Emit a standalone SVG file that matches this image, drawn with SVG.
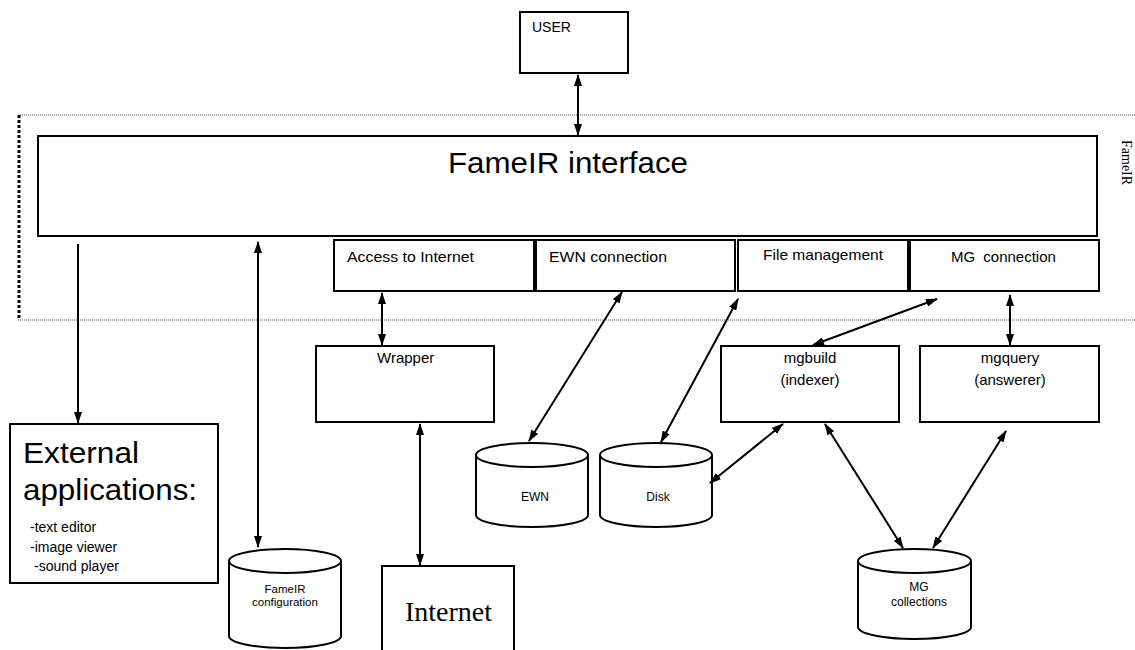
<svg xmlns="http://www.w3.org/2000/svg" width="1135" height="650" viewBox="0 0 1135 650">
<defs>
<style>
.box{fill:#fff;stroke:#000;stroke-width:2}
.cyl{fill:#fff;stroke:#000;stroke-width:2}
.t{font-family:"Liberation Sans",Arial,sans-serif;fill:#000}
.s{font-family:"Liberation Serif","Times New Roman",serif;fill:#000}
.c{stroke:#000;stroke-width:2;fill:none}
.dd{marker-start:url(#ah);marker-end:url(#ah)}
.de{marker-end:url(#ah)}
</style>
<marker id="ah" viewBox="0 0 12 8" refX="11" refY="4" markerWidth="12" markerHeight="8" orient="auto-start-reverse" markerUnits="userSpaceOnUse"><path d="M0,0 L12,4 L0,8 z" fill="#000"/></marker>
</defs>
<rect width="1135" height="650" fill="#fff"/>
<g id="fameir-frame">
<line x1="18" y1="115" x2="1135" y2="115" stroke="#555" stroke-width="1" stroke-dasharray="1 1"/>
<line x1="18" y1="320" x2="1135" y2="320" stroke="#555" stroke-width="1" stroke-dasharray="1 1"/>
<line x1="19" y1="115" x2="19" y2="320" stroke="#000" stroke-width="3" stroke-dasharray="3 2"/>
<text class="s" font-size="14" transform="translate(1122,140) rotate(90)">FameIR</text>
</g>
<g id="user"><rect class="box" x="520" y="12" width="108" height="61"/><text class="t" x="532" y="32" font-size="14">USER</text></g>
<g id="interface"><rect class="box" x="38" y="136" width="1059" height="100"/><text class="t" x="448" y="173" font-size="30" textLength="240" lengthAdjust="spacingAndGlyphs">FameIR interface</text></g>
<g id="access"><rect class="box" x="334" y="240" width="200" height="51"/><text class="t" x="347" y="262" font-size="15" textLength="127" lengthAdjust="spacingAndGlyphs">Access to Internet</text></g>
<g id="ewn-conn"><rect class="box" x="536" y="240" width="199" height="51"/><text class="t" x="549" y="262" font-size="15" textLength="118" lengthAdjust="spacingAndGlyphs">EWN connection</text></g>
<g id="file-mgmt"><rect class="box" x="738" y="240" width="170" height="51"/><text class="t" x="763" y="260" font-size="15" textLength="120" lengthAdjust="spacingAndGlyphs">File management</text></g>
<g id="mg-conn"><rect class="box" x="910" y="240" width="189" height="51"/><text class="t" x="951" y="262" font-size="15" word-spacing="4">MG connection</text></g>
<g id="wrapper"><rect class="box" x="316" y="346" width="178" height="76"/><text class="t" x="377" y="363" font-size="15">Wrapper</text></g>
<g id="mgbuild"><rect class="box" x="721" y="346" width="178" height="76"/><text class="t" text-anchor="middle" font-size="15"><tspan x="810" y="363">mgbuild</tspan><tspan x="810" y="385">(indexer)</tspan></text></g>
<g id="mgquery"><rect class="box" x="920" y="346" width="179" height="76"/><text class="t" text-anchor="middle" font-size="15"><tspan x="1010" y="363">mgquery</tspan><tspan x="1010" y="385">(answerer)</tspan></text></g>
<g id="external"><rect class="box" x="10" y="424" width="208" height="159"/>
<text class="t" x="23" y="463" font-size="30" textLength="116" lengthAdjust="spacingAndGlyphs">External</text>
<text class="t" x="23" y="500" font-size="30" textLength="174" lengthAdjust="spacingAndGlyphs">applications:</text>
<text class="t" font-size="14"><tspan x="30" y="532">-text editor</tspan><tspan x="30" y="552">-image viewer</tspan><tspan x="34" y="571">-sound player</tspan></text></g>
<g id="internet"><rect class="box" x="382" y="566" width="132" height="100"/><text class="s" x="405" y="621" font-size="28">Internet</text></g>
<g id="fameir-config"><path class="cyl" d="M229,561 L229,636 A56,12 0 0 0 341,636 L341,561"/><ellipse class="cyl" cx="285" cy="561" rx="56" ry="12"/>
<text class="t" text-anchor="middle" font-size="11.5"><tspan x="285" y="593">FameIR</tspan><tspan x="285" y="606">configuration</tspan></text></g>
<g id="ewn"><path class="cyl" d="M476,455 L476,515 A56,12 0 0 0 588,515 L588,455"/><ellipse class="cyl" cx="532" cy="455" rx="56" ry="12"/>
<text class="t" x="535" y="501" text-anchor="middle" font-size="12">EWN</text></g>
<g id="disk"><path class="cyl" d="M600,455 L600,515 A56,12 0 0 0 712,515 L712,455"/><ellipse class="cyl" cx="656" cy="455" rx="56" ry="12"/>
<text class="t" x="658" y="501" text-anchor="middle" font-size="12">Disk</text></g>
<g id="mg-collections"><path class="cyl" d="M858,561 L858,627 A56.5,12 0 0 0 971,627 L971,561"/><ellipse class="cyl" cx="914.5" cy="561" rx="56.5" ry="12"/>
<text class="t" text-anchor="middle" font-size="12"><tspan x="919" y="591">MG</tspan><tspan x="919" y="606">collections</tspan></text></g>
<g id="connectors">
<line class="c dd" x1="578" y1="75" x2="578" y2="135"/>
<line class="c de" x1="78" y1="244" x2="78" y2="423"/>
<line class="c dd" x1="258" y1="242" x2="258" y2="547"/>
<line class="c dd" x1="382" y1="293" x2="382" y2="345"/>
<line class="c dd" x1="420" y1="424" x2="420" y2="565"/>
<line class="c dd" x1="622" y1="292" x2="529" y2="441"/>
<line class="c dd" x1="738" y1="299" x2="661" y2="442"/>
<line class="c dd" x1="937" y1="299" x2="813" y2="345"/>
<line class="c dd" x1="1010" y1="295" x2="1010" y2="345"/>
<line class="c dd" x1="710" y1="483" x2="783" y2="424"/>
<line class="c dd" x1="825" y1="424" x2="903" y2="548"/>
<line class="c dd" x1="1006" y1="431" x2="933" y2="548"/>
</g>
</svg>
